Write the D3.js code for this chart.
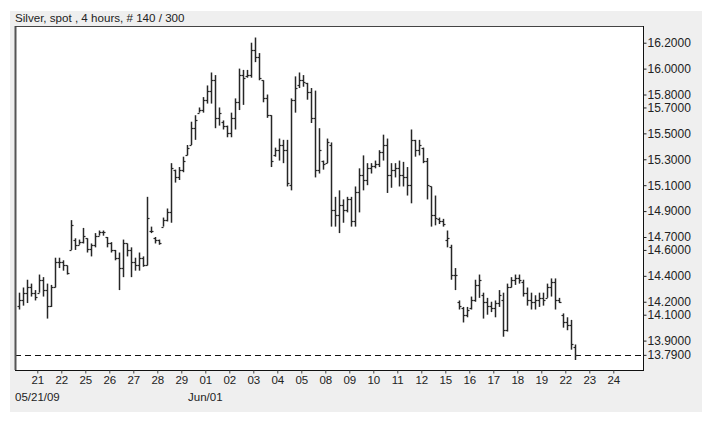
<!DOCTYPE html>
<html><head><meta charset="utf-8">
<script src="https://cdn.jsdelivr.net/npm/d3@7"></script>
<style>
html,body{margin:0;padding:0;background:#fff;}
svg{display:block;font-family:"Liberation Sans",Arial,sans-serif;}
</style></head>
<body>
<svg id="chart" width="719" height="422"></svg>
<script>
const titleText = "Silver, spot , 4 hours, # 140 / 300";
const openV = [14.17,14.21,14.27,14.31,14.27,14.27,14.37,14.29,14.17,14.31,14.51,14.51,14.48,14.60,14.68,14.64,14.66,14.69,14.61,14.64,14.71,14.74,14.70,14.65,14.60,14.54,14.46,14.65,14.60,14.51,14.48,14.54,14.48,14.75,14.69,14.68,14.78,14.83,14.89,15.22,15.16,15.22,15.33,15.41,15.54,15.66,15.68,15.76,15.83,15.91,15.62,15.59,15.56,15.50,15.62,15.74,15.95,15.94,15.95,16.14,16.09,15.91,15.77,15.64,15.33,15.37,15.41,15.37,15.10,15.76,15.87,15.91,15.89,15.82,15.62,15.22,15.29,15.27,15.41,14.91,14.87,14.95,14.91,14.99,14.82,15.05,15.18,15.14,15.23,15.25,15.26,15.36,15.41,15.18,15.22,15.23,15.18,15.16,15.10,15.45,15.37,15.39,15.29,15.09,14.87,14.84,14.82,14.68,14.62,14.41,14.20,14.15,14.10,14.15,14.21,14.33,14.25,14.20,14.17,14.15,14.19,14.21,13.98,14.31,14.37,14.38,14.35,14.27,14.21,14.20,14.21,14.23,14.23,14.31,14.35,14.21,14.10,14.04,14.02,13.85];
const highV = [14.27,14.31,14.37,14.34,14.29,14.41,14.39,14.34,14.33,14.54,14.54,14.52,14.48,14.83,14.69,14.68,14.77,14.69,14.65,14.73,14.75,14.75,14.70,14.66,14.60,14.58,14.68,14.65,14.62,14.54,14.58,14.55,15.01,14.78,14.70,14.68,14.85,14.92,15.27,15.22,15.24,15.32,15.41,15.59,15.64,15.70,15.78,15.87,15.97,15.95,15.70,15.60,15.56,15.66,15.77,16.00,15.99,15.99,16.20,16.24,16.12,15.91,15.80,15.64,15.39,15.46,15.45,15.45,15.77,15.94,15.97,15.95,15.89,15.85,15.83,15.54,15.29,15.46,15.43,15.01,15.06,14.99,15.01,15.01,15.09,15.23,15.33,15.27,15.27,15.29,15.37,15.49,15.46,15.27,15.27,15.29,15.28,15.24,15.53,15.45,15.45,15.39,15.31,15.09,15.02,14.85,14.84,14.75,14.64,14.46,14.21,14.16,14.16,14.24,14.37,14.41,14.27,14.23,14.20,14.21,14.29,14.27,14.34,14.39,14.41,14.41,14.37,14.31,14.27,14.25,14.27,14.27,14.34,14.38,14.38,14.23,14.11,14.08,14.06,13.87];
const lowV = [14.14,14.17,14.19,14.24,14.21,14.27,14.24,14.07,14.16,14.31,14.46,14.44,14.41,14.60,14.60,14.64,14.65,14.58,14.55,14.62,14.71,14.71,14.62,14.58,14.52,14.29,14.39,14.55,14.39,14.44,14.44,14.47,14.48,14.73,14.65,14.64,14.78,14.82,14.81,15.12,15.14,15.20,15.33,15.41,15.45,15.66,15.66,15.73,15.73,15.54,15.56,15.53,15.47,15.47,15.53,15.68,15.72,15.93,15.93,16.05,15.91,15.74,15.62,15.24,15.32,15.29,15.27,15.09,15.06,15.66,15.85,15.86,15.76,15.58,15.16,15.19,15.22,15.27,14.78,14.78,14.73,14.81,14.89,14.78,14.78,14.89,15.06,15.10,15.19,15.23,15.24,15.29,15.04,15.08,15.16,15.09,15.09,15.02,14.96,15.32,15.33,15.27,14.99,14.78,14.79,14.80,14.78,14.62,14.37,14.29,14.14,14.04,14.08,14.14,14.20,14.23,14.07,14.10,14.12,14.08,14.16,13.93,13.97,14.31,14.33,14.34,14.24,14.17,14.14,14.14,14.16,14.17,14.23,14.24,14.14,14.19,14.00,13.98,13.83,13.75];
const closeV = [14.21,14.27,14.31,14.27,14.24,14.37,14.29,14.17,14.31,14.51,14.51,14.48,14.42,14.79,14.64,14.66,14.71,14.61,14.64,14.71,14.74,14.74,14.65,14.60,14.54,14.46,14.65,14.60,14.51,14.48,14.54,14.48,14.85,14.75,14.68,14.65,14.83,14.89,15.23,15.16,15.22,15.29,15.39,15.54,15.60,15.68,15.76,15.83,15.91,15.62,15.66,15.56,15.50,15.62,15.74,15.95,15.93,15.95,16.14,16.09,15.93,15.77,15.64,15.29,15.37,15.41,15.37,15.12,15.76,15.85,15.91,15.90,15.82,15.62,15.22,15.37,15.26,15.43,14.91,14.87,14.95,14.91,14.99,14.82,15.05,15.18,15.14,15.23,15.25,15.26,15.36,15.41,15.18,15.22,15.23,15.18,15.16,15.10,15.45,15.37,15.41,15.29,15.10,14.87,14.85,14.82,14.80,14.69,14.41,14.41,14.17,14.10,14.14,14.21,14.33,14.37,14.20,14.17,14.15,14.19,14.25,13.98,14.31,14.37,14.38,14.37,14.27,14.21,14.20,14.21,14.23,14.21,14.31,14.35,14.21,14.20,14.04,14.02,13.87,13.79];
const lastPrice = 13.79;
const yTickValues = [16.2,16.0,15.8,15.7,15.5,15.3,15.1,14.9,14.7,14.6,14.4,14.2,14.1,13.9,13.79];
const dayLabels = ["21","22","25","26","27","28","29","01","02","03","04","05","08","09","10","11","12","15","16","17","18","19","22","23","24"];
const firstDayBar = 4.5, barsPerDay = 6;
const startLabel = "05/21/09";
const monthLabel = "Jun/01";
const monthLabelDay = 7; // index into dayLabels ("01")

const svg = d3.select("#chart");
const plot = {l:15, t:26, r:643, b:370};

svg.append("rect").attr("x",10).attr("y",11).attr("width",692).attr("height",401).attr("fill","#efefef");
svg.append("rect").attr("x",plot.l).attr("y",plot.t).attr("width",plot.r-plot.l).attr("height",plot.b-plot.t).attr("fill","#fff");

svg.append("text").attr("x",15).attr("y",22).attr("font-size","11.6px").attr("fill","#222").text(titleText);

const x = d3.scaleLinear().domain([-1.075, 155.925]).range([plot.l, plot.r]);
const y = d3.scaleLinear().domain([13.673, 16.329]).range([plot.b, plot.t]);

const bars = openV.map((o,i)=>({i, o, h:highV[i], l:lowV[i], c:closeV[i]}));

svg.append("line").attr("x1",plot.l).attr("x2",plot.r)
  .attr("y1",Math.round(y(lastPrice))+0.5).attr("y2",Math.round(y(lastPrice))+0.5)
  .attr("stroke","#111").attr("stroke-width",1).attr("stroke-dasharray","6,4");

const g = svg.append("g").attr("stroke","#262626").attr("fill","none");
const px = d => Math.round(x(d.i))+0.5;
g.selectAll("line.hl").data(bars).join("line").attr("class","hl")
  .attr("stroke-width",1.5)
  .attr("x1",px).attr("x2",px).attr("y1",d=>y(d.h)).attr("y2",d=>y(d.l));
g.selectAll("line.op").data(bars).join("line").attr("class","op")
  .attr("stroke-width",1.2)
  .attr("x1",d=>px(d)-2).attr("x2",d=>px(d)).attr("y1",d=>Math.round(y(d.o))+0.5).attr("y2",d=>Math.round(y(d.o))+0.5);
g.selectAll("line.cl").data(bars).join("line").attr("class","cl")
  .attr("stroke-width",1.2)
  .attr("x1",d=>px(d)).attr("x2",d=>px(d)+2).attr("y1",d=>Math.round(y(d.c))+0.5).attr("y2",d=>Math.round(y(d.c))+0.5);

svg.append("line").attr("x1",plot.l+0.5).attr("x2",plot.l+0.5).attr("y1",plot.t).attr("y2",plot.b).attr("stroke","#555").attr("stroke-width",2);
svg.append("line").attr("x1",plot.l).attr("x2",plot.r).attr("y1",plot.t+0.5).attr("y2",plot.t+0.5).attr("stroke","#444");
svg.append("line").attr("x1",plot.r+0.5).attr("x2",plot.r+0.5).attr("y1",plot.t).attr("y2",plot.b+1).attr("stroke","#111");
svg.append("line").attr("x1",plot.l).attr("x2",plot.r+1).attr("y1",plot.b+0.5).attr("y2",plot.b+0.5).attr("stroke","#111");

const yAxis = d3.axisRight(y).tickValues(yTickValues).tickFormat(d3.format(".4f")).tickSize(3).tickPadding(1);
const ya = svg.append("g").attr("transform",`translate(${plot.r+0.5},0)`).call(yAxis);
ya.select(".domain").remove();
ya.selectAll("text").attr("font-size","12px").attr("font-family","Liberation Sans, Arial, sans-serif").attr("fill","#222");
ya.selectAll("line").attr("stroke","#222");

const dayTicks = dayLabels.map((d,k)=>firstDayBar + barsPerDay*k);
const xAxis = d3.axisBottom(x).tickValues(dayTicks).tickFormat((d,k)=>dayLabels[k]).tickSize(3).tickPadding(2);
const xa = svg.append("g").attr("transform",`translate(0,${plot.b+0.5})`).call(xAxis);
xa.select(".domain").remove();
xa.selectAll("text").attr("font-size","11.5px").attr("font-family","Liberation Sans, Arial, sans-serif").attr("fill","#222");
xa.selectAll("line").attr("stroke","#444");

svg.append("text").attr("x",15).attr("y",401).attr("font-size","11.5px").attr("fill","#222").text(startLabel);
svg.append("text").attr("x",x(dayTicks[monthLabelDay])).attr("y",401).attr("text-anchor","middle").attr("font-size","11.5px").attr("fill","#222").text(monthLabel);
</script>
</body></html>
